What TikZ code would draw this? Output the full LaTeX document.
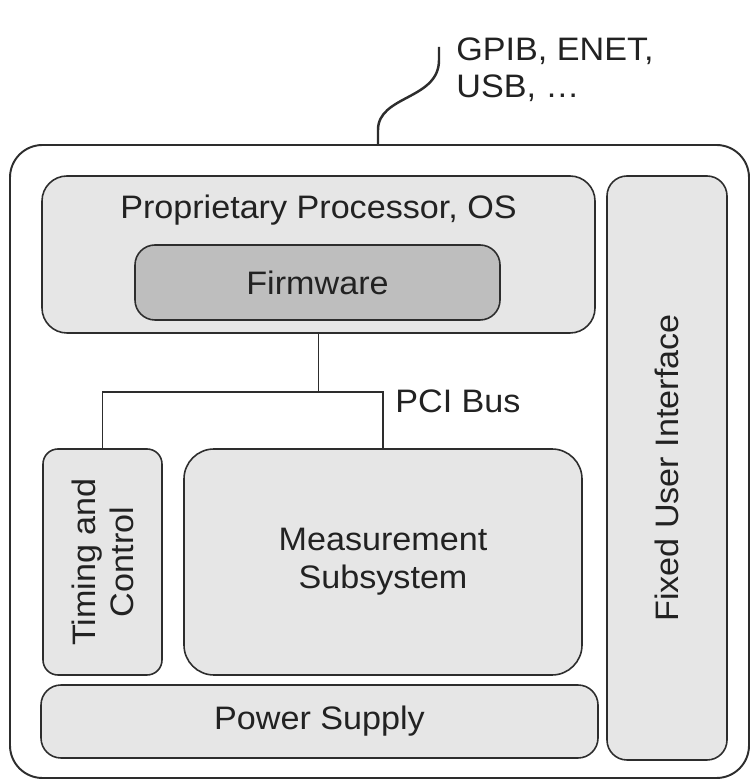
\documentclass[tikz,border=0pt]{standalone}
\usepackage{fontspec}
\setmainfont{Liberation Sans}[FakeStretch=1.05]
\usetikzlibrary{positioning, math}
\definecolor{qframe}{RGB}{45,45,45}
\definecolor{qlight}{RGB}{230,230,230}
\definecolor{qmid}{RGB}{190,190,190}
\definecolor{qtext}{RGB}{34,34,34}

\begin{document}
\begin{tikzpicture}[
  block/.style={draw=qframe, line width=0.9pt, fill=qlight, rounded corners=#1,
    inner sep=0pt, text=qtext, font=\fontsize{18.5}{21.6}\selectfont, align=center},
  block/.default=0.4cm,
  lbl/.style={text=qtext, inner sep=0pt, font=\fontsize{18.5}{21.6}\selectfont},
  wire/.style={draw=qframe, line width=1.1pt}
]
\useasboundingbox (0,0) rectangle (15.02,15.62);

% chassis
\node[block=0.65cm, fill=white, line width=1.1pt, minimum width=14.78cm, minimum height=12.66cm] (chassis) at (7.59,6.39) {};

% processor and firmware
\node[block=0.5cm, minimum width=11.06cm, minimum height=3.14cm] (proc) at (6.37,10.53) {};
\node[lbl, below=0.38cm of proc.north] (proclbl) {Proprietary Processor, OS};
\node[block, fill=qmid, minimum width=7.3cm, minimum height=1.5cm] (firmware) at (6.35,9.97) {Firmware};

% lower blocks
\node[block=0.3cm, minimum width=2.38cm, minimum height=4.52cm] (timing) at (2.05,4.38) {};
\node[lbl, rotate=90, align=center] (timinglbl) at (timing) {Timing and\\Control};
\node[block=0.6cm, minimum width=7.96cm, minimum height=4.52cm] (meas) at (7.66,4.38) {Measurement\\Subsystem};
\node[block, minimum width=11.14cm, minimum height=1.46cm] (power) at (6.39,1.19) {Power Supply};
\node[block, minimum width=2.4cm, minimum height=11.68cm] (fui) at (13.34,6.26) {};
\node[lbl, rotate=90] (fuilbl) at (fui) {Fixed User Interface};

%PCI bus
\draw[wire] (proc.south) -- ++(0,-1.16) coordinate (busjoin);
\draw[wire] (timing.north) |- (busjoin) -| (meas.north);
\node[lbl, anchor=base west] (pci) at (7.9,7.36) {PCI Bus};

%cable
\coordinate (plug) at (7.56,12.72);
\coordinate (cableend) at (8.78,14.68);
\draw[wire, line width=1.4pt] (plug) -- (7.56,13.02) .. controls (7.56,13.72) and (8.78,13.62) .. (8.78,14.42) -- (cableend);
\node[lbl, anchor=base west, align=left] (iface) at (9.12,13.66) {GPIB, ENET,\\USB, \ldots};

\end{tikzpicture}
\end{document}
